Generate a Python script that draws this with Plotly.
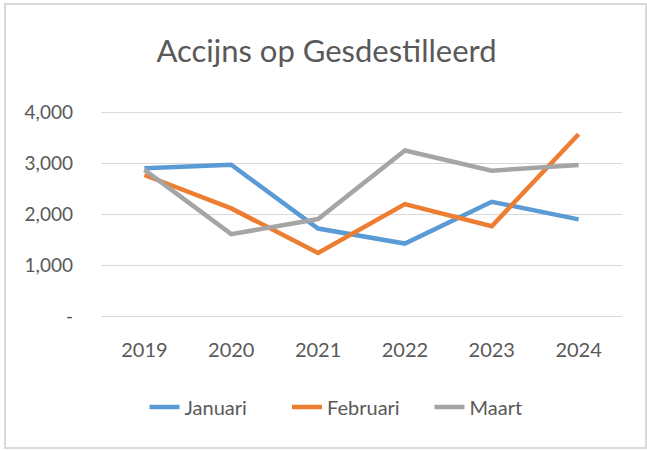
import plotly.graph_objects as go

years = ["2019", "2020", "2021", "2022", "2023", "2024"]
januari = [2905, 2975, 1725, 1430, 2250, 1905]
februari = [2775, 2120, 1245, 2205, 1770, 3575]
maart = [2875, 1615, 1910, 3255, 2860, 2970]
ytick_vals = [0, 1000, 2000, 3000, 4000]
ytick_text = ["-", "1,000", "2,000", "3,000", "4,000"]

FONT = "Lato, sans-serif"
TXT = "#595959"

fig = go.Figure()
for name, vals, col in [("Januari", januari, "#5B9BD5"),
                        ("Februari", februari, "#ED7D31"),
                        ("Maart", maart, "#A5A5A5")]:
    fig.add_trace(go.Scatter(x=years, y=vals, name=name, mode="lines",
                             line=dict(color=col, width=4.5)))

W, H = 647, 450
L, R, T, B = 101, 25, 111, 132
pw, ph = W - L - R, H - T - B

def px2x(p):
    return (p - L) / pw

def px2y(p):
    return (H - B - p) / ph

fig.update_layout(
    width=W, height=H,
    margin=dict(l=L, r=R, t=T, b=B),
    paper_bgcolor="white", plot_bgcolor="white",
    font=dict(family=FONT, color=TXT, size=20),
    title=dict(text="Accijns op Gesdestilleerd", x=326.5 / W, xanchor="center",
               y=1 - 51 / H, yanchor="middle", yref="container",
               font=dict(size=31, color=TXT, family=FONT)),
    xaxis=dict(type="category", range=[-0.5, 5.5], showgrid=False,
               showline=False, zeroline=False, ticks="",
               tickfont=dict(size=20, color=TXT), ticklabelstandoff=18),
    yaxis=dict(range=[-30, 4030], tickvals=ytick_vals, ticktext=ytick_text,
               showgrid=True, gridcolor="#D9D9D9", gridwidth=1,
               zeroline=False, showline=False, ticks="",
               tickfont=dict(size=19, color=TXT), ticklabelstandoff=27),
    showlegend=True,
    legend=dict(orientation="h", x=px2x(144.5), xanchor="left",
                y=px2y(407), yanchor="middle",
                font=dict(size=20, color=TXT), itemwidth=30,
                entrywidth=97.5, entrywidthmode="pixels",
                bgcolor="rgba(0,0,0,0)"),
    shapes=[dict(type="rect", xref="paper", yref="paper",
                 x0=px2x(5), x1=px2x(646), y0=px2y(448), y1=px2y(4),
                 line=dict(color="#D9D9D9", width=2), layer="below")],
)

fig.write_html("out.html", config={"displayModeBar": False},
               post_script="document.body.style.margin='0';")
